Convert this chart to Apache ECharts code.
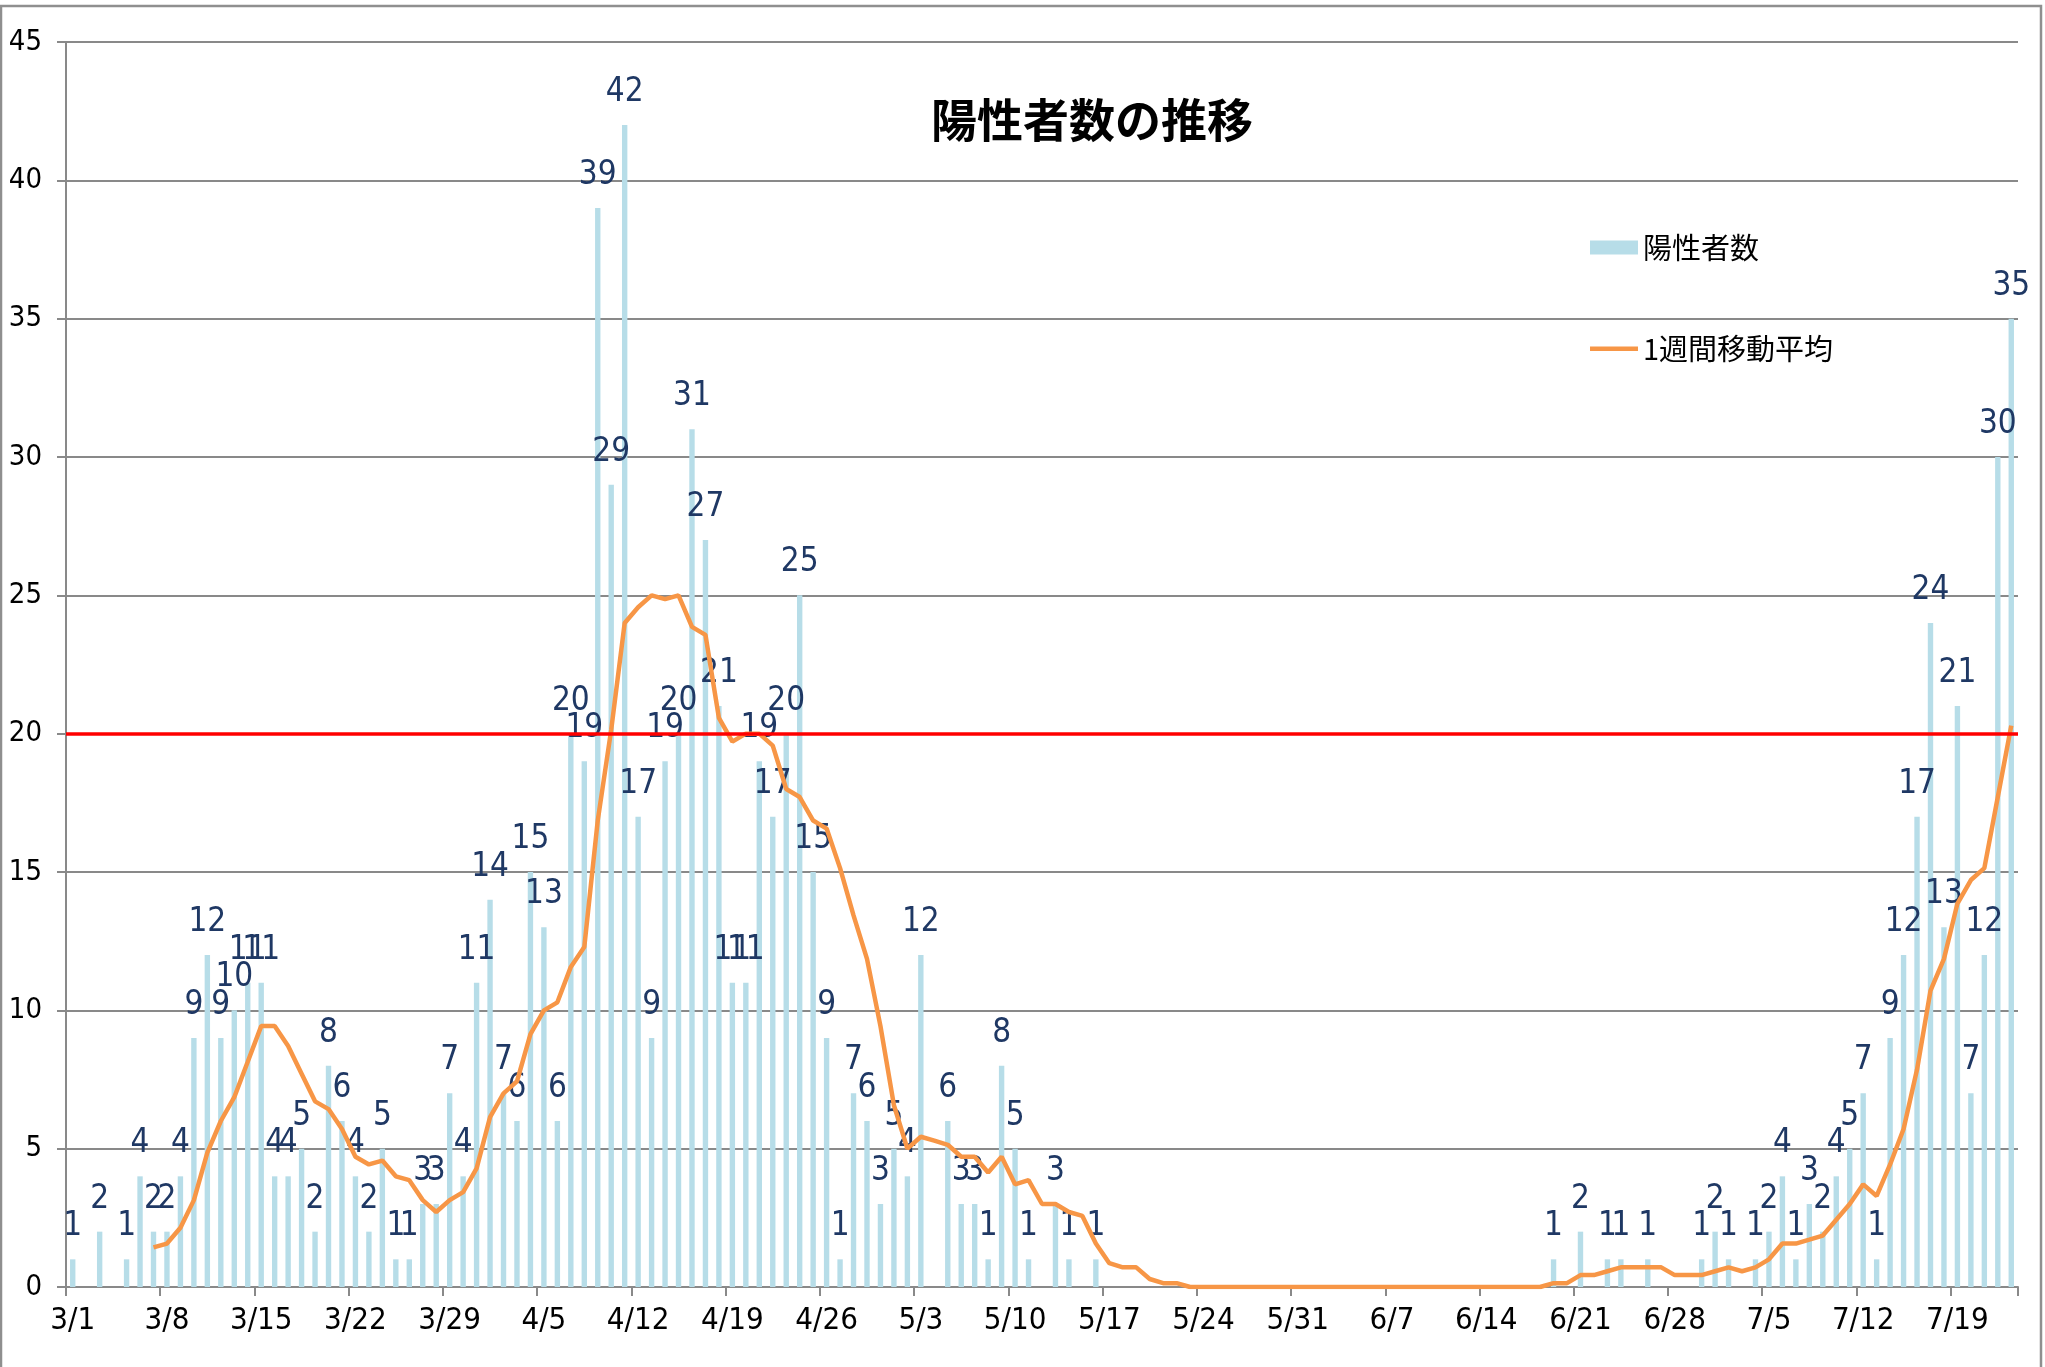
<!DOCTYPE html>
<html>
<head>
<meta charset="utf-8">
<script src="https://cdn.jsdelivr.net/npm/echarts@6/dist/echarts.min.js"></script>
<style>
html,body{margin:0;padding:0;background:#fff;}
#chart{width:2045px;height:1367px;}
</style>
</head>
<body>
<div id="chart"></div>
<script>
const dates = [
'3/1','3/2','3/3','3/4','3/5','3/6','3/7','3/8','3/9','3/10','3/11','3/12','3/13','3/14','3/15','3/16','3/17','3/18','3/19','3/20','3/21','3/22','3/23','3/24','3/25','3/26','3/27','3/28','3/29','3/30','3/31',
'4/1','4/2','4/3','4/4','4/5','4/6','4/7','4/8','4/9','4/10','4/11','4/12','4/13','4/14','4/15','4/16','4/17','4/18','4/19','4/20','4/21','4/22','4/23','4/24','4/25','4/26','4/27','4/28','4/29','4/30',
'5/1','5/2','5/3','5/4','5/5','5/6','5/7','5/8','5/9','5/10','5/11','5/12','5/13','5/14','5/15','5/16','5/17','5/18','5/19','5/20','5/21','5/22','5/23','5/24','5/25','5/26','5/27','5/28','5/29','5/30','5/31',
'6/1','6/2','6/3','6/4','6/5','6/6','6/7','6/8','6/9','6/10','6/11','6/12','6/13','6/14','6/15','6/16','6/17','6/18','6/19','6/20','6/21','6/22','6/23','6/24','6/25','6/26','6/27','6/28','6/29','6/30',
'7/1','7/2','7/3','7/4','7/5','7/6','7/7','7/8','7/9','7/10','7/11','7/12','7/13','7/14','7/15','7/16','7/17','7/18','7/19','7/20','7/21','7/22','7/23'
];

const positives = [
1,0,2,0,1,4,2,2,4,9,
12,9,10,11,11,4,4,5,2,8,
6,4,2,5,1,1,3,3,7,4,
11,14,7,6,15,13,6,20,19,39,
29,42,17,9,19,20,31,27,21,11,
11,19,17,20,25,15,9,1,7,6,
3,5,4,12,0,6,3,3,1,8,
5,1,0,3,1,0,1,0,0,0,
0,0,0,0,0,0,0,0,0,0,
0,0,0,0,0,0,0,0,0,0,
0,0,0,0,0,0,0,0,0,0,
1,0,2,0,1,1,0,1,0,0,
0,1,2,1,0,1,2,4,1,3,
2,4,5,7,1,9,12,17,24,13,
21,7,12,30,35
];

const weeklyAvg = [
null,null,null,null,null,null,1.43,1.57,2.14,3.14,
4.86,6.00,6.86,8.14,9.43,9.43,8.71,7.71,6.71,6.43,
5.71,4.71,4.43,4.57,4.00,3.86,3.14,2.71,3.14,3.43,
4.29,6.14,7.00,7.43,9.14,10.00,10.29,11.57,12.29,16.86,
20.14,24.00,24.57,25.00,24.86,25.00,23.86,23.57,20.57,19.71,
20.00,20.00,19.57,18.00,17.71,16.86,16.57,15.14,13.43,11.86,
9.43,6.57,5.00,5.43,5.29,5.14,4.71,4.71,4.14,4.71,
3.71,3.86,3.00,3.00,2.71,2.57,1.57,0.86,0.71,0.71,
0.29,0.14,0.14,0,0,0,0,0,0,0,
0,0,0,0,0,0,0,0,0,0,
0,0,0,0,0,0,0,0,0,0,
0.14,0.14,0.43,0.43,0.57,0.71,0.71,0.71,0.71,0.43,
0.43,0.43,0.57,0.71,0.57,0.71,1.00,1.57,1.57,1.71,
1.86,2.43,3.00,3.71,3.29,4.43,5.71,7.86,10.71,11.86,
13.86,14.71,15.14,17.71,20.29
];

const yTicks = {min: 0, max: 45, interval: 5};
const threshold = 20;
const titleText = '陽性者数の推移';
const seriesNames = ['陽性者数', '1週間移動平均'];

const narrow = '"Liberation Sans Narrow", "DejaVu Sans Condensed", "Roboto", sans-serif';
const cjk = '"Noto Sans CJK JP", "Noto Sans", sans-serif';
// thin horizontal bar icon inside a 48x14 box (degenerate subpaths keep the box size)
const lineIcon = 'path://M0,0L48,0L48,0.01L0,0.01Z M0,5L48,5L48,9.5L0,9.5Z M0,14L48,14L48,14.01L0,14.01Z';

const chart = echarts.init(document.getElementById('chart'), null, {renderer: 'canvas'});
chart.setOption({
  backgroundColor: '#ffffff',
  animation: false,
  title: {
    text: titleText,
    left: 926,
    top: 92,
    textStyle: {fontFamily: cjk, fontWeight: 'bold', fontSize: 46, color: '#000000'}
  },
  legend: {
    orient: 'vertical',
    left: 1585,
    top: 228,
    itemWidth: 48,
    itemHeight: 14,
    itemGap: 72,
    textStyle: {fontFamily: cjk, fontSize: 29, color: '#000000'},
    data: [
      {name: seriesNames[0], icon: 'rect'},
      {name: seriesNames[1], icon: lineIcon}
    ]
  },
  graphic: [{
    type: 'rect',
    silent: true,
    shape: {x: 1, y: 6, width: 2040, height: 1400},
    style: {fill: 'none', stroke: '#8f8f8f', lineWidth: 2.5}
  }],
  grid: {left: 66, right: 27, top: 42, bottom: 80, containLabel: false},
  xAxis: {
    type: 'category',
    data: dates,
    boundaryGap: true,
    axisLine: {show: true, lineStyle: {color: '#898989', width: 2}},
    axisTick: {show: true, interval: 6, length: 9, lineStyle: {color: '#898989', width: 2}},
    axisLabel: {interval: 6, margin: 18, fontFamily: narrow, fontSize: 31, color: '#000000'},
    splitLine: {show: false}
  },
  yAxis: {
    type: 'value',
    min: yTicks.min,
    max: yTicks.max,
    interval: yTicks.interval,
    axisLine: {show: true, lineStyle: {color: '#898989', width: 2}},
    axisTick: {show: true, length: 9, lineStyle: {color: '#898989', width: 2}},
    axisLabel: {margin: 24, fontFamily: narrow, fontSize: 29, color: '#000000'},
    splitLine: {show: true, lineStyle: {color: '#898989', width: 1.8}}
  },
  series: [
    {
      name: seriesNames[0],
      type: 'bar',
      data: positives,
      barWidth: '40%',
      itemStyle: {color: '#B7DDE8'},
      label: {
        show: true,
        position: 'top',
        distance: 16,
        fontFamily: narrow,
        fontSize: 33,
        color: '#1F3864',
        formatter: p => (p.value ? String(p.value) : '')
      },
      markLine: {
        silent: true,
        symbol: ['none', 'none'],
        label: {show: false},
        lineStyle: {color: '#FF0000', width: 3.5, type: 'solid'},
        data: [{yAxis: threshold}]
      }
    },
    {
      name: seriesNames[1],
      type: 'line',
      data: weeklyAvg,
      symbol: 'none',
      showSymbol: false,
      connectNulls: false,
      lineStyle: {color: '#F79646', width: 4.5},
      itemStyle: {color: '#F79646'}
    }
  ]
});
</script>
</body>
</html>
